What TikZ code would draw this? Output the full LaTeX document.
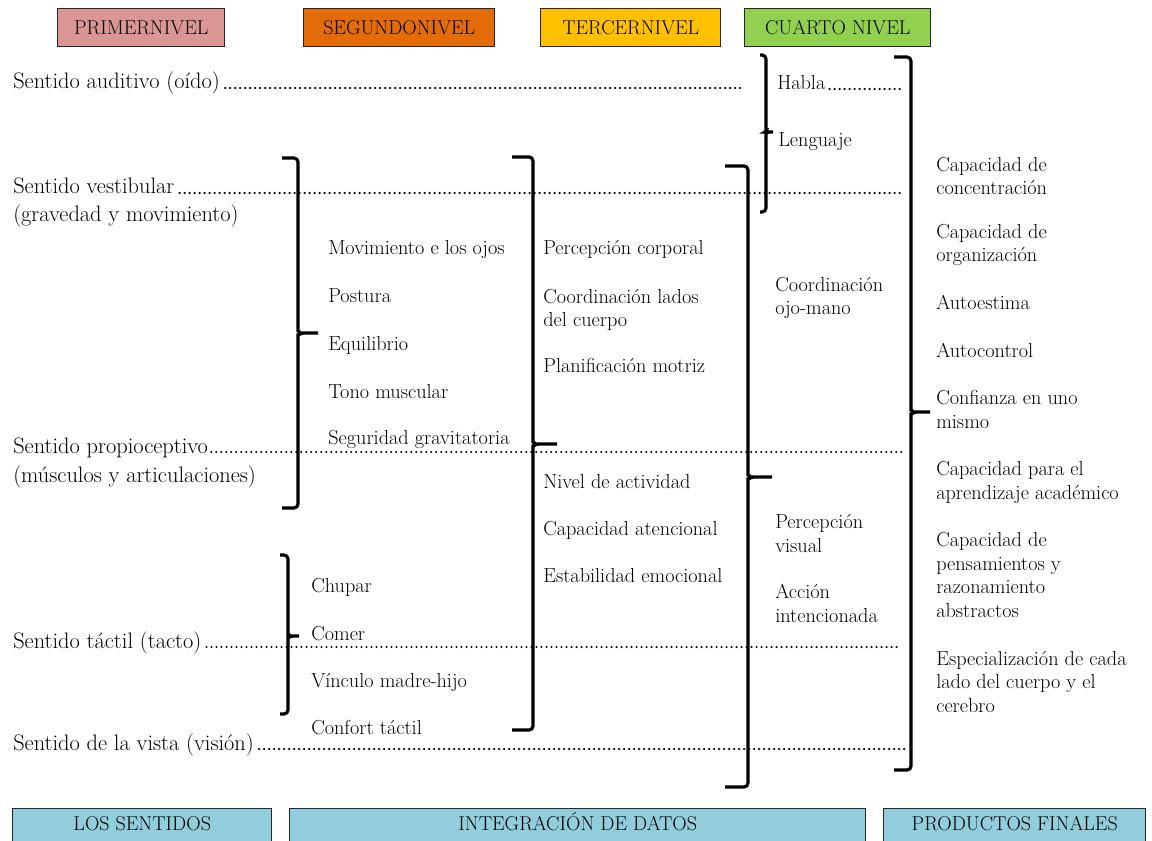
\documentclass[tikz,border=0pt]{standalone}
\usepackage{fontspec}
\usepackage{tikz}

\definecolor{lvlone}{HTML}{D99694}
\definecolor{lvltwo}{HTML}{E36C09}
\definecolor{lvlthree}{HTML}{FFC000}
\definecolor{lvlfour}{HTML}{92D050}
\definecolor{bandblue}{HTML}{92CDDC}

\begin{document}
\begin{tikzpicture}[
  x=0.75pt, y=-0.75pt,
  txt/.style={anchor=base west, inner sep=0pt, align=left, font=\fontsize{15.2}{17.6}\selectfont},
  sense/.style={anchor=base west, inner sep=0pt, font=\fontsize{16.8}{21}\selectfont},
  level/.style={draw=black!85, line width=1.1pt, anchor=north west, inner sep=0pt, minimum height=28.5pt, font=\fontsize{15}{18}\selectfont},
  band/.style={level, fill=bandblue, minimum height=0pt, text height=16.5pt, text depth=15pt},
  dots/.style={line width=1.8pt, line cap=round, dash pattern=on 0pt off 3.75pt},
  brk/.style={line width=2.4pt, rounded corners=3pt}
]
\clip (0,0) rectangle (1152,841);
\fill[white] (0,0) rectangle (1152,841);

% Level headers
\node[level, fill=lvlone, minimum width=125.25pt] (lvl1) at (57,8) {PRIMERNIVEL};
\node[level, fill=lvltwo, minimum width=143.25pt] (lvl2) at (303,8) {SEGUNDONIVEL};
\node[level, fill=lvlthree, minimum width=135pt] (lvl3) at (540,8) {TERCERNIVEL};
\node[level, fill=lvlfour, minimum width=139.5pt] (lvl4) at (744,8) {CUARTO NIVEL};

% The senses
\node[sense] (aud) at (13,89) {Sentido auditivo (oído)};
\node[sense] (vest) at (13,194) {Sentido vestibular};
\node[sense] (vestb) at (13,222) {(gravedad y movimiento)};
\node[sense] (prop) at (13,453) {Sentido propioceptivo};
\node[sense] (propb) at (13,482) {(músculos y articulaciones)};
\node[sense] (tact) at (13,648) {Sentido táctil (tacto)};
\node[sense] (vista) at (13,750) {Sentido de la vista (visión)};

% Second level
\node[txt] (mov) at (328,255) {Movimiento e los ojos};
\node[txt] (post) at (328,303) {Postura};
\node[txt] (equi) at (328,350) {Equilibrio};
\node[txt] (tono) at (328,398) {Tono muscular};
\node[txt] (segu) at (328,444) {Seguridad gravitatoria};
\node[txt] (chup) at (311,592) {Chupar};
\node[txt] (come) at (311,640) {Comer};
\node[txt] (vinc) at (311,687) {Vínculo madre-hijo};
\node[txt] (conf) at (311,734) {Confort táctil};

% Third level (multi-line texts sit on their last line)
\node[txt] (pcorp) at (543,255) {Percepción corporal};
\node[txt] (lados) at (543,327) {Coordinación lados\\del cuerpo};
\node[txt] (plan) at (543,373) {Planificación motriz};
\node[txt] (activ) at (543,488) {Nivel de actividad};
\node[txt] (atenc) at (543,535) {Capacidad atencional};
\node[txt] (estab) at (543,582) {Estabilidad emocional};

% Fourth level
\node[txt] (habla) at (777,90) {Habla};
\node[txt] (leng) at (778,147) {Lenguaje};
\node[txt] (ojo) at (775,315) {Coordinación\\ojo-mano};
\node[txt] (pvis) at (775,552) {Percepción\\visual};
\node[txt] (acci) at (775,622) {Acción\\intencionada};

% Final products
\node[txt] (conc) at (936,195) {Capacidad de\\concentración};
\node[txt] (orga) at (936,262) {Capacidad de\\organización};
\node[txt] (aest) at (936,310) {Autoestima};
\node[txt] (actl) at (936,358) {Autocontrol};
\node[txt] (cuno) at (936,428) {Confianza en uno\\mismo};
\node[txt] (apre) at (936,499) {Capacidad para el\\aprendizaje académico};
\node[txt] (razo) at (936,617) {Capacidad de\\pensamientos y\\razonamiento\\abstractos};
\node[txt] (espe) at (936,712) {Especialización de cada\\lado del cuerpo y el\\cerebro};

% Bottom bands
\node[band, minimum width=194.25pt] (sent) at (12,808) {LOS SENTIDOS};
\node[band, minimum width=432pt] (integ) at (289,808) {INTEGRACIÓN DE DATOS};
\node[band, minimum width=196.5pt] (prod) at (883,808) {PRODUCTOS FINALES};

% Dotted leaders
\coordinate (audE) at (743,88);
\coordinate (hablaE) at (903,89);
\coordinate (vestE) at (903,193);
\coordinate (propE) at (903,452);
\coordinate (tactE) at (901,647);
\coordinate (vistaE) at (905,749);
\draw[dots] ([shift={(5,-1)}]aud.base east) -- (audE);
\draw[dots] ([shift={(4,-1)}]habla.base east) -- (hablaE);
\draw[dots] ([shift={(5,-1)}]vest.base east) -- (vestE);
\draw[dots] ([shift={(3,-1)}]prop.base east) -- (propE);
\draw[dots] ([shift={(5,-1)}]tact.base east) -- (tactE);
\draw[dots] ([shift={(5,-1)}]vista.base east) -- (vistaE);

% Brackets
\draw[brk] (282,158) -- (298,158) -- (298,327) to[out=-90,in=180] (304,333) -- (318,333)
  (304,333) to[out=180,in=90] (298,339) -- (298,508) -- (282,508);
\draw[brk] (280,555) -- (288,555) -- (288,631) to[out=-90,in=180] (293,636) -- (299,636)
  (293,636) to[out=180,in=90] (288,641) -- (288,714) -- (280,714);
\draw[brk] (512,157) -- (533,157) -- (533,438) to[out=-90,in=180] (539,444) -- (557,444)
  (539,444) to[out=180,in=90] (533,450) -- (533,730) -- (512,730);
\draw[brk] (725,166) -- (748,166) -- (748,471) to[out=-90,in=180] (754,477) -- (772,477)
  (754,477) to[out=180,in=90] (748,483) -- (748,787) -- (725,787);
\draw[brk] (760,55) -- (766,55) -- (766,128) to[out=-90,in=180] (769,132) -- (771,132)
  (769,132) to[out=180,in=90] (766,136) -- (766,212) -- (760,212);
\draw[brk] (894,57) -- (911,57) -- (911,406) to[out=-90,in=180] (917,412) -- (930,412)
  (917,412) to[out=180,in=90] (911,418) -- (911,770) -- (894,770);

\end{tikzpicture}
\end{document}
